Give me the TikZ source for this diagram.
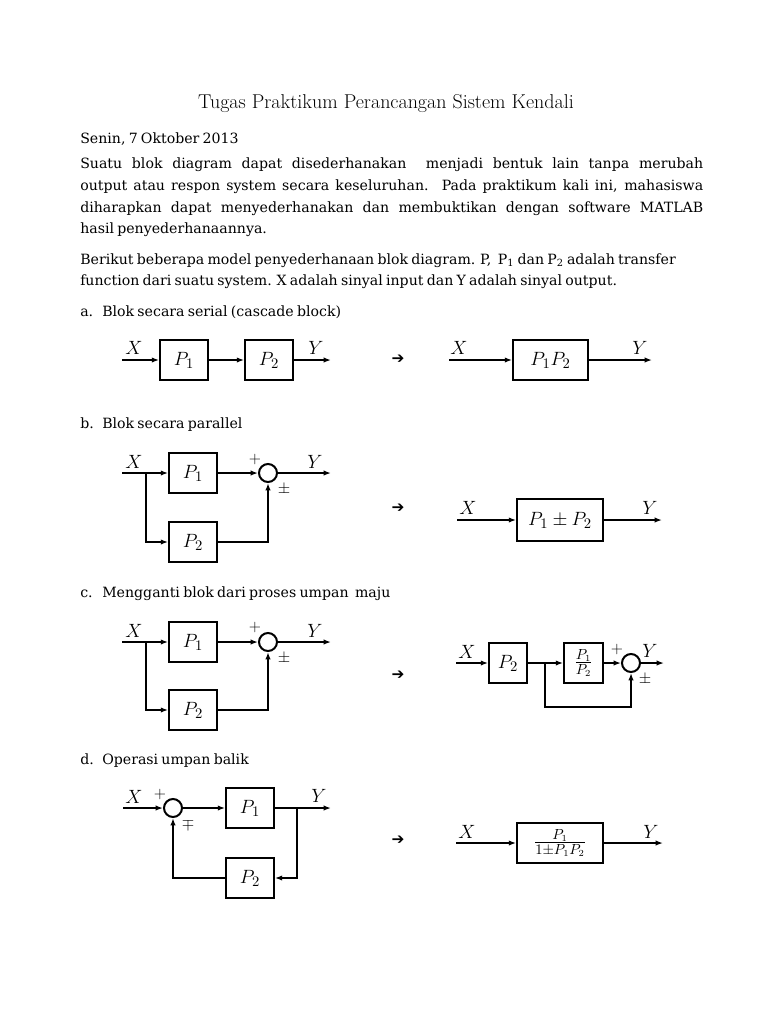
\documentclass[tikz,border=0pt]{standalone}
\usepackage{fontspec}
\usetikzlibrary{arrows.meta}
\newfontfamily\bodyfont[WordSpace=0.72]{DejaVu Serif}
\newfontfamily\symfont{DejaVu Sans}
\begin{document}
\begin{tikzpicture}[x=0.75pt,y=-0.75pt,
  body/.style={font=\bodyfont\fontsize{10.6}{12}\selectfont, anchor=base west, inner sep=0pt},
  blk/.style={draw, line width=1.25pt, minimum width=36pt, minimum height=30pt, inner sep=0pt, font=\fontsize{15}{18}\selectfont},
  sig/.style={line width=1.05pt, -{Latex[length=5.5pt,width=4pt]}},
  sumc/.style={circle, draw, line width=1.5pt, minimum size=13.5pt, inner sep=0pt},
  vlab/.style={font=\fontsize{15}{18}\selectfont, inner sep=0pt},
  sgn/.style={font=\fontsize{11.5}{12}\selectfont, inner sep=0pt},
  arr/.style={font=\symfont\bfseries\fontsize{11.5}{12}\selectfont, inner sep=0pt}
]
\fill[white] (0,0) rectangle (768,1024);
\useasboundingbox (0,0) rectangle (768,1024);

% ---------- text ----------
\node[font=\fontsize{15}{17}\selectfont, inner sep=0pt] (title) at (386,104) {Tugas Praktikum Perancangan Sistem Kendali};
\node[body] (date) at (80,143) {Senin, 7 Oktober 2013};
\node[body] (p1a) at (80,168) {\makebox[467.25pt][s]{Suatu blok diagram dapat disederhanakan~ menjadi bentuk lain tanpa merubah}};
\node[body] (p1b) at (80,190) {\makebox[467.25pt][s]{output atau respon system secara keseluruhan. Pada praktikum kali ini, mahasiswa}};
\node[body] (p1c) at (80,212) {\makebox[467.25pt][s]{diharapkan dapat menyederhanakan dan membuktikan dengan software MATLAB}};
\node[body] (p1d) at (80,233) {hasil penyederhanaannya.};
\node[body] (p2a) at (80,264) {Berikut beberapa model penyederhanaan blok diagram. P,~ P\textsubscript{1} dan P\textsubscript{2} adalah transfer};
\node[body] (p2b) at (80,285) {function dari suatu system. X adalah sinyal input dan Y adalah sinyal output.};
\node[body] (ha) at (80,316) {\makebox[16.5pt][l]{a.}Blok secara serial (cascade block)};
\node[body] (hb) at (80,428) {\makebox[16.5pt][l]{b.}Blok secara parallel};
\node[body] (hc) at (80,597) {\makebox[16.5pt][l]{c.}Mengganti blok dari proses umpan~ maju};
\node[body] (hd) at (80,764) {\makebox[16.5pt][l]{d.}Operasi umpan balik};

% ---------- a ----------
\coordinate (a-in) at (122,360);
\node[blk] (a-p1) at (184,360) {$P_1$};
\node[blk] (a-p2) at (269,360) {$P_2$};
\coordinate (a-out) at (331,360);
\draw[sig] (a-in) -- (a-p1);
\draw[sig] (a-p1) -- (a-p2);
\draw[sig] (a-p2) -- (a-out);
\node[vlab] (a-x) at (134,348) {$X$};
\node[vlab] (a-y) at (316,348) {$Y$};
\node[arr] (a-arr) at (398,359) {➔};
\coordinate (a2-in) at (449,360);
\node[blk, minimum width=56.25pt] (a2-p) at (550.5,360) {$P_1P_2$};
\coordinate (a2-out) at (652,360);
\draw[sig] (a2-in) -- (a2-p);
\draw[sig] (a2-p) -- (a2-out);
\node[vlab] (a2-x) at (459,348) {$X$};
\node[vlab] (a2-y) at (640,348) {$Y$};

% ---------- b ----------
\coordinate (b-in) at (122,473);
\coordinate (b-br) at (146,473);
\node[blk] (b-p1) at (193,473) {$P_1$};
\node[blk] (b-p2) at (193,542) {$P_2$};
\node[sumc] (b-s) at (268,473) {};
\coordinate (b-out) at (331,473);
\draw[sig] (b-in) -- (b-p1);
\draw[sig] (b-br) |- (b-p2.west);
\draw[sig] (b-p1) -- (b-s);
\draw[sig] (b-p2.east) -| (b-s.south);
\draw[sig] (b-s) -- (b-out);
\node[vlab] (b-x) at (134,462) {$X$};
\node[vlab] (b-y) at (315,462) {$Y$};
\node[sgn] (b-plus) at (255,459) {$+$};
\node[sgn] (b-pm) at (284,489) {$\pm$};
\node[arr] (b-arr) at (398,508) {➔};
\coordinate (b2-in) at (457,520);
\node[blk, minimum width=64.5pt, minimum height=31.5pt] (b2-p) at (560,520) {$P_1\pm P_2$};
\coordinate (b2-out) at (662,520);
\draw[sig] (b2-in) -- (b2-p);
\draw[sig] (b2-p) -- (b2-out);
\node[vlab] (b2-x) at (468,508) {$X$};
\node[vlab] (b2-y) at (650,508) {$Y$};

% ---------- c ----------
\coordinate (c-in) at (122,642);
\coordinate (c-br) at (146,642);
\node[blk] (c-p1) at (193,642) {$P_1$};
\node[blk] (c-p2) at (193,710) {$P_2$};
\node[sumc] (c-s) at (268,642) {};
\coordinate (c-out) at (331,642);
\draw[sig] (c-in) -- (c-p1);
\draw[sig] (c-br) |- (c-p2.west);
\draw[sig] (c-p1) -- (c-s);
\draw[sig] (c-p2.east) -| (c-s.south);
\draw[sig] (c-s) -- (c-out);
\node[vlab] (c-x) at (134,631) {$X$};
\node[vlab] (c-y) at (315,631) {$Y$};
\node[sgn] (c-plus) at (255,627) {$+$};
\node[sgn] (c-pm) at (284,658) {$\pm$};
\node[arr] (c-arr) at (398,675) {➔};
\coordinate (c2-in) at (456,663);
\node[blk, minimum width=28.5pt] (c2-p2) at (508,663) {$P_2$};
\coordinate (c2-br) at (545,663);
\node[blk, minimum width=29.25pt] (c2-f) at (583.5,663) {$\frac{P_1}{P_2}$};
\node[sumc] (c2-s) at (631,663) {};
\coordinate (c2-out) at (664,663);
\coordinate (c2-fb) at (588,707);
\draw[sig] (c2-in) -- (c2-p2);
\draw[sig] (c2-p2) -- (c2-f);
\draw[sig] (c2-f) -- (c2-s);
\draw[sig] (c2-s) -- (c2-out);
\draw[sig] (c2-br) |- (c2-fb) -| (c2-s.south);
\node[vlab] (c2-x) at (467,652) {$X$};
\node[vlab] (c2-y) at (650,651) {$Y$};
\node[sgn] (c2-plus) at (617,649) {$+$};
\node[sgn] (c2-pm) at (645,679) {$\pm$};

% ---------- d ----------
\coordinate (d-in) at (123,808);
\node[sumc] (d-s) at (173,808) {};
\node[blk] (d-p1) at (250,808) {$P_1$};
\coordinate (d-br) at (297,808);
\coordinate (d-out) at (331,808);
\node[blk] (d-p2) at (250,878) {$P_2$};
\draw[sig] (d-in) -- (d-s);
\draw[sig] (d-s) -- (d-p1);
\draw[sig] (d-p1) -- (d-out);
\draw[sig] (d-br) |- (d-p2.east);
\draw[sig] (d-p2.west) -| (d-s.south);
\node[vlab] (d-x) at (134,797) {$X$};
\node[vlab] (d-y) at (319,796) {$Y$};
\node[sgn] (d-plus) at (160,794) {$+$};
\node[sgn] (d-mp) at (188,824) {$\mp$};
\node[arr] (d-arr) at (398,840) {➔};
\coordinate (d2-in) at (456,843);
\node[blk, minimum width=64.5pt] (d2-p) at (560,843) {$\frac{P_1}{1\pm P_1P_2}$};
\coordinate (d2-out) at (663,843);
\draw[sig] (d2-in) -- (d2-p);
\draw[sig] (d2-p) -- (d2-out);
\node[vlab] (d2-x) at (467,832) {$X$};
\node[vlab] (d2-y) at (651,832) {$Y$};
\end{tikzpicture}
\end{document}
